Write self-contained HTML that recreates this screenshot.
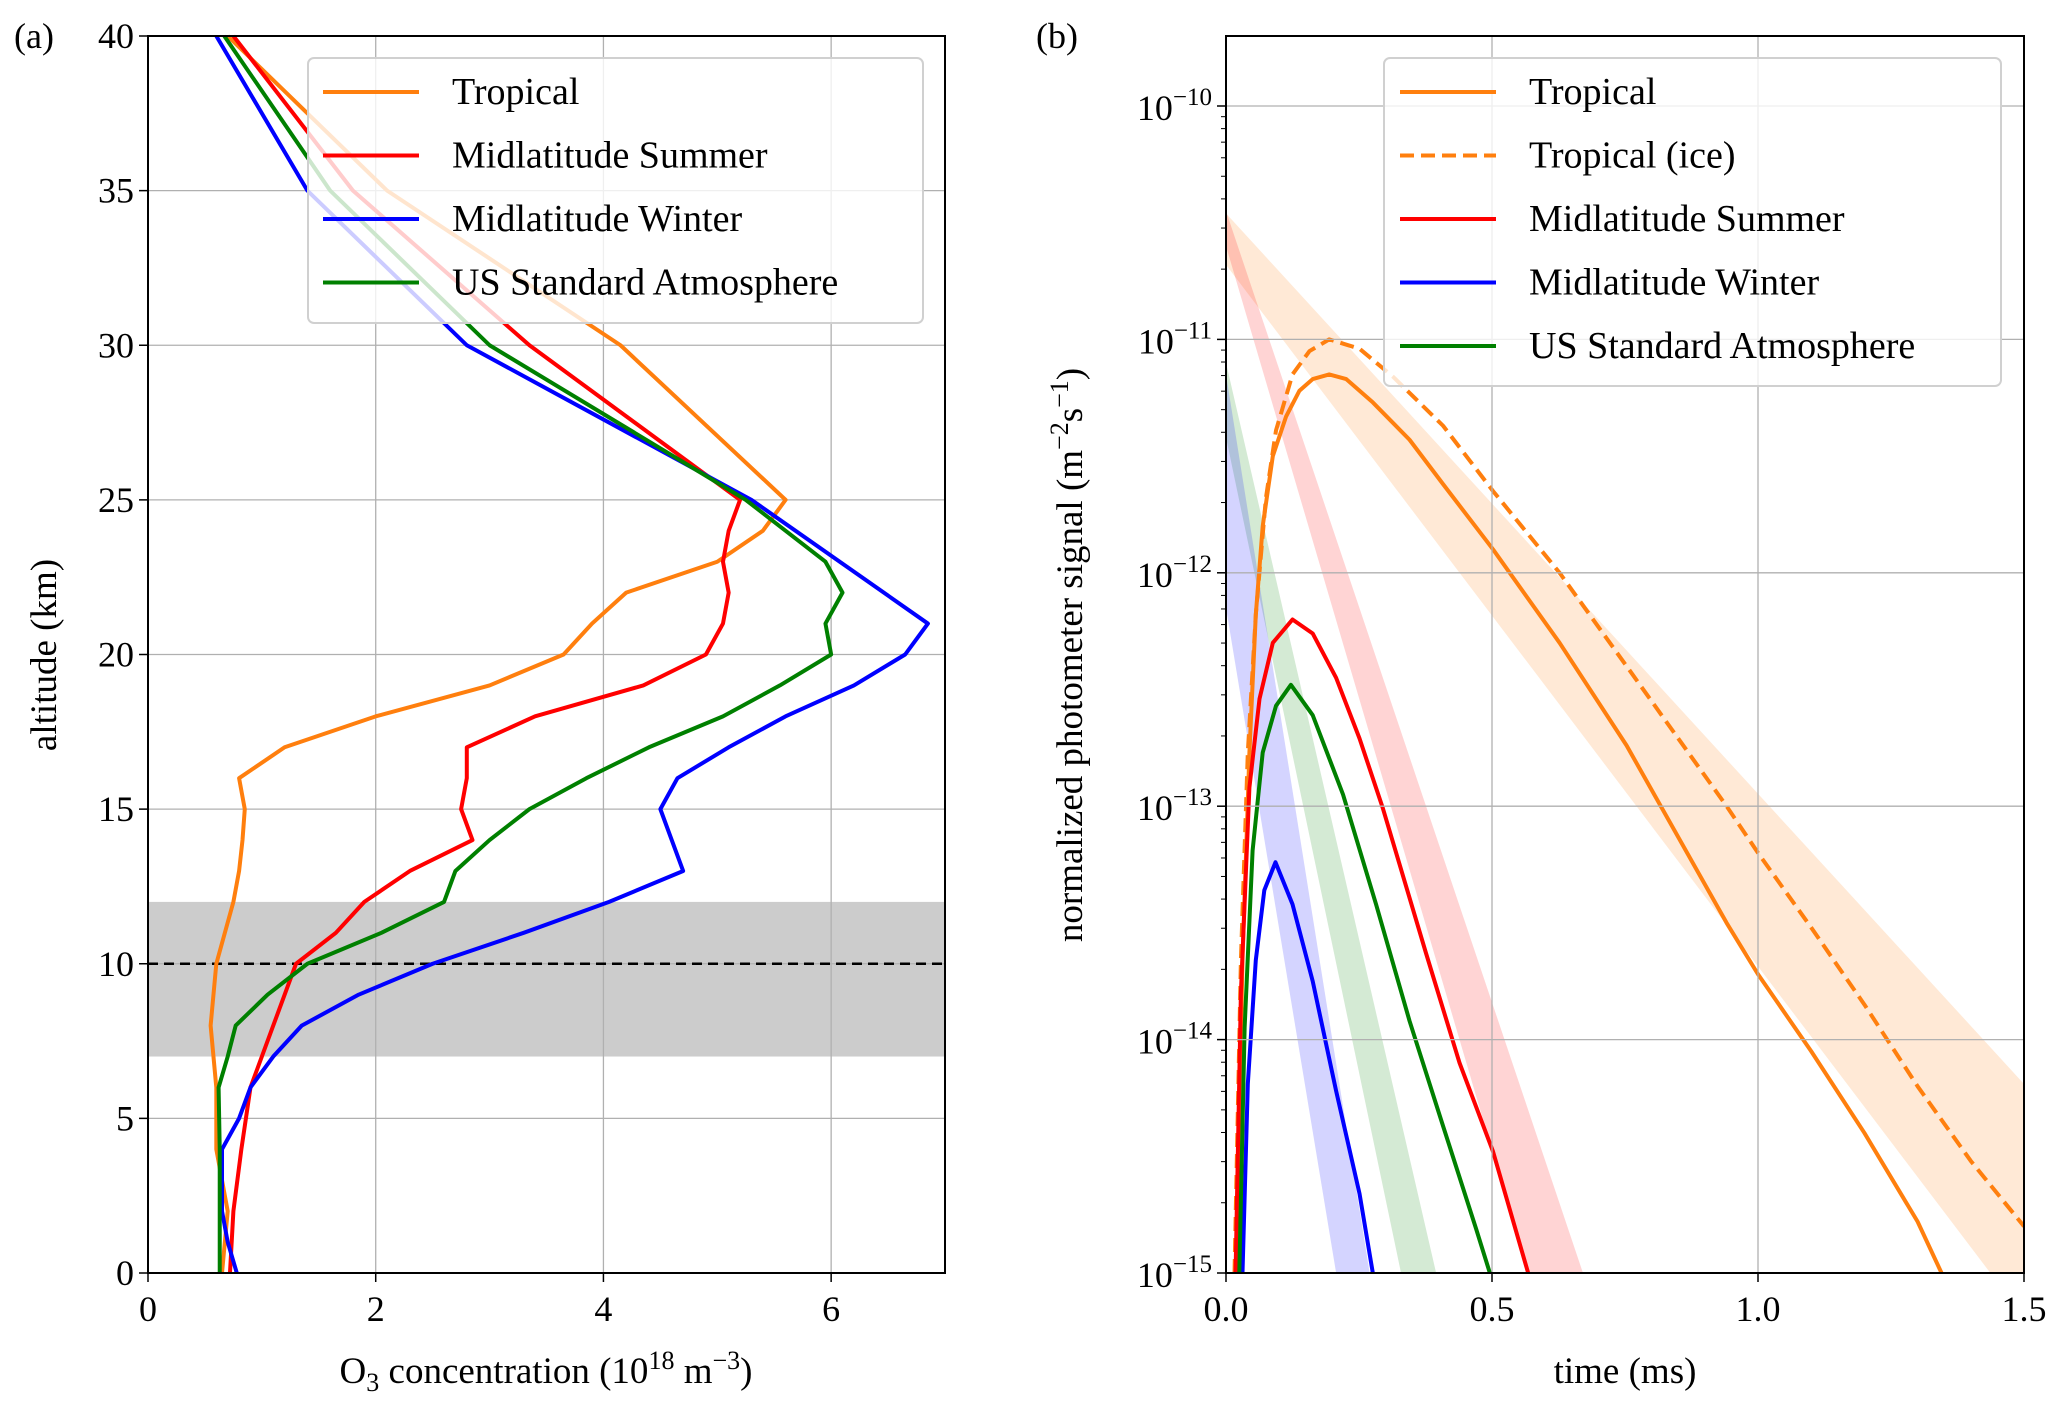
<!DOCTYPE html>
<html><head><meta charset="utf-8"><style>
body{margin:0;background:#fff}
svg{display:block;font-family:"Liberation Serif",serif}
</style></head><body>
<svg id="fig" width="2067" height="1410" viewBox="0 0 2067 1410">
<text x="14" y="48" font-size="36">(a)</text>
<text x="1036" y="48" font-size="36">(b)</text>
<g id="pa"></g>
<g id="pb"></g>
</svg>
<script>
// ---- Panel (a) data ----
const tropAlt=[0,2,4,6,8,10,12,13,14,15,16,17,18,19,20,21,22,23,24,25,30,35,40];
const tropO3=[0.65,0.7,0.6,0.6,0.55,0.6,0.75,0.8,0.83,0.85,0.8,1.2,2.0,3.0,3.65,3.9,4.2,5.0,5.4,5.6,4.15,2.1,0.7];
const msAlt=[0,2,4,6,8,9,10,11,12,13,14,15,16,17,18,19,20,21,22,23,24,25,30,35,40];
const msO3=[0.72,0.75,0.82,0.9,1.1,1.2,1.3,1.65,1.9,2.3,2.85,2.75,2.8,2.8,3.4,4.35,4.9,5.05,5.1,5.05,5.1,5.2,3.35,1.8,0.75];
const mwAlt=[0,1,2,4,5,6,7,8,9,10,11,12,13,14,15,16,17,18,19,20,21,25,30,35,40];
const mwO3=[0.78,0.7,0.65,0.65,0.8,0.9,1.1,1.35,1.85,2.5,3.3,4.05,4.7,4.6,4.5,4.65,5.1,5.6,6.2,6.65,6.85,5.3,2.8,1.4,0.6];
const usAlt=[0,2,4,6,7,8,9,10,11,12,13,14,15,16,17,18,19,20,21,22,23,25,30,35,40];
const usO3=[0.63,0.63,0.63,0.62,0.7,0.77,1.05,1.4,2.05,2.6,2.7,3.0,3.35,3.85,4.4,5.05,5.55,6.0,5.95,6.1,5.95,5.25,3.0,1.6,0.67];
const aXTicks=[0,2,4,6];
const aYTicks=[0,5,10,15,20,25,30,35,40];
// ---- Panel (b) data (log10 of signal) ----
const trT=[0.019,0.031,0.044,0.056,0.069,0.088,0.113,0.138,0.163,0.194,0.226,0.276,0.345,0.408,0.502,0.627,0.753,0.941,1.0,1.1,1.2,1.3,1.345];
const trL=[-15,-13.66,-12.77,-12.18,-11.8,-11.5,-11.33,-11.22,-11.17,-11.15,-11.17,-11.27,-11.43,-11.62,-11.9,-12.3,-12.74,-13.5,-13.72,-14.05,-14.4,-14.78,-15];
const iceT=[0.016,0.028,0.041,0.056,0.075,0.094,0.125,0.157,0.194,0.251,0.314,0.408,0.502,0.627,0.753,0.941,1.0,1.1,1.2,1.3,1.4,1.5];
const iceL=[-15,-13.66,-12.77,-12.18,-11.68,-11.39,-11.15,-11.05,-11.0,-11.04,-11.16,-11.37,-11.65,-12.0,-12.4,-13.0,-13.2,-13.52,-13.85,-14.2,-14.52,-14.8];
const msT=[0.018,0.028,0.044,0.063,0.088,0.125,0.163,0.207,0.251,0.295,0.376,0.439,0.502,0.568];
const msL=[-15,-13.8,-12.92,-12.54,-12.3,-12.2,-12.26,-12.45,-12.71,-13.01,-13.63,-14.1,-14.48,-15];
const usT=[0.025,0.035,0.05,0.069,0.094,0.122,0.163,0.22,0.282,0.345,0.408,0.47,0.496];
const usL=[-15,-13.95,-13.19,-12.77,-12.57,-12.48,-12.61,-12.95,-13.42,-13.92,-14.37,-14.81,-15];
const mwT=[0.031,0.041,0.056,0.072,0.093,0.125,0.163,0.207,0.251,0.276];
const mwL=[-15,-14.19,-13.66,-13.36,-13.24,-13.42,-13.75,-14.22,-14.66,-15];
// fit bands
const bandTrT=[0,1.5]; const bandTrUp=[-10.46,-14.19]; const bandTrLo=[-10.68,-15.19];
const bandMsT=[0,0.671,0.568]; const bandMsL=[-10.45,-15,-10.6];
const bandUsT=[0,0.395,0.329]; const bandUsL=[-11.1,-15,-11.42];
const bandMwT=[0,0.27,0.207]; const bandMwL=[-11.15,-15,-12.15];
const bXTicks=[0,0.5,1.0,1.5];
const bXLabels=["0.0","0.5","1.0","1.5"];
const bYTicks=[-15,-14,-13,-12,-11,-10];

const NS="http://www.w3.org/2000/svg";
function el(p,t,a){const e=document.createElementNS(NS,t);for(const k in a)e.setAttribute(k,a[k]);p.appendChild(e);return e;}
const C={or:"#ff7f0e",r:"#ff0000",b:"#0000ff",g:"#008000"};
const LW=4;

// ---- Panel a ----
const pa=document.getElementById('pa');
const aL=148,aR=945,aT=36,aB=1273;
const ax=v=>aL+v/7*(aR-aL), ay=v=>aB-v/40*(aB-aT);
let e=el(pa,'rect',{x:aL,y:ay(12),width:aR-aL,height:ay(7)-ay(12),fill:'#cccccc'});


aXTicks.forEach(v=>{let g=el(pa,'line',{x1:ax(v),x2:ax(v),y1:aT,y2:aB,stroke:'#b0b0b0','stroke-width':1.3});
 el(pa,'line',{x1:ax(v),x2:ax(v),y1:aB,y2:aB+9,stroke:'#000','stroke-width':1.5});
 let l=el(pa,'text',{x:ax(v),y:aB+48,'font-size':36,'text-anchor':'middle'});l.textContent=v;});
aYTicks.forEach(v=>{let g=el(pa,'line',{x1:aL,x2:aR,y1:ay(v),y2:ay(v),stroke:'#b0b0b0','stroke-width':1.3});
 el(pa,'line',{x1:aL-9,x2:aL,y1:ay(v),y2:ay(v),stroke:'#000','stroke-width':1.5});
 let l=el(pa,'text',{x:aL-14,y:ay(v)+12,'font-size':36,'text-anchor':'end'});l.textContent=v;});
e=el(pa,'line',{x1:aL,x2:aR,y1:ay(10),y2:ay(10),stroke:'#000','stroke-width':2.5,'stroke-dasharray':'10,6'});


function prof(xs,ys,c,n){let p=el(pa,'polyline',{points:xs.map((v,i)=>ax(v)+','+ay(ys[i])).join(' '),fill:'none',stroke:c,'stroke-width':LW,'stroke-linejoin':'round'});}
prof(tropO3,tropAlt,C.or,'tropical-profile');
prof(msO3,msAlt,C.r,'midlat-summer-profile');
prof(mwO3,mwAlt,C.b,'midlat-winter-profile');
prof(usO3,usAlt,C.g,'us-standard-profile');
e=el(pa,'rect',{x:aL,y:aT,width:aR-aL,height:aB-aT,fill:'none',stroke:'#000','stroke-width':2});


const lga=el(pa,'g',{});


el(lga,'rect',{x:308,y:58,width:615,height:265,rx:6,fill:'rgba(255,255,255,0.8)',stroke:'#d0d0d0','stroke-width':2});
[["Tropical",C.or],["Midlatitude Summer",C.r],["Midlatitude Winter",C.b],["US Standard Atmosphere",C.g]].forEach((d,i)=>{const y=92+i*63.5;
 let g=el(lga,'g',{});
 el(g,'line',{x1:323,x2:419,y1:y,y2:y,stroke:d[1],'stroke-width':LW});
 let t=el(g,'text',{x:452,y:y+12,'font-size':38});t.textContent=d[0];});
e=el(pa,'text',{x:546,y:1383,'font-size':37,'text-anchor':'middle'});
e.innerHTML='O<tspan font-size="26" dy="8">3</tspan><tspan dy="-8"> concentration (10</tspan><tspan font-size="26" dy="-14">18</tspan><tspan dy="14"> m</tspan><tspan font-size="26" dy="-14">−3</tspan><tspan dy="14">)</tspan>';


e=el(pa,'text',{x:0,y:0,'font-size':37,'text-anchor':'middle',transform:'translate(56,655) rotate(-90)'});
e.textContent='altitude (km)';



// ---- Panel b ----
const pb=document.getElementById('pb');
const bL=1226,bR=2024,bT=36,bB=1273;
const dec=233.4;
const bx=v=>bL+v/1.5*(bR-bL), by=v=>bB-(v+15)*dec;
const cl=el(pb,'clipPath',{id:'cb'});el(cl,'rect',{x:bL,y:bT,width:bR-bL,height:bB-bT});
const gb=el(pb,'g',{'clip-path':'url(#cb)'});
bXTicks.forEach(v=>{let g=el(pb,'line',{x1:bx(v),x2:bx(v),y1:bT,y2:bB,stroke:'#b0b0b0','stroke-width':1.3});});
bYTicks.forEach(v=>{let g=el(pb,'line',{x1:bL,x2:bR,y1:by(v),y2:by(v),stroke:'#b0b0b0','stroke-width':1.3});});
function poly(pts,c,n){let p=el(gb,'polygon',{points:pts.map(q=>bx(q[0])+','+by(q[1])).join(' '),fill:c,'fill-opacity':0.17});}
poly([[bandTrT[0],bandTrUp[0]],[bandTrT[1],bandTrUp[1]],[bandTrT[1],bandTrLo[1]],[bandTrT[0],bandTrLo[0]]],C.or,'tropical-fit-band');
poly([[0,bandMsL[0]],[bandMsT[1],bandMsL[1]],[bandMsT[2],bandMsL[1]],[0,bandMsL[2]]],C.r,'midlat-summer-fit-band');
poly([[0,bandUsL[0]],[bandUsT[1],bandUsL[1]],[bandUsT[2],bandUsL[1]],[0,bandUsL[2]]],C.g,'us-standard-fit-band');
poly([[0,bandMwL[0]],[bandMwT[1],bandMwL[1]],[bandMwT[2],bandMwL[1]],[0,bandMwL[2]]],C.b,'midlat-winter-fit-band');
function sig(ts,ls,c,n,dash){let a={points:ts.map((v,i)=>bx(v)+','+by(ls[i])).join(' '),fill:'none',stroke:c,'stroke-width':LW,'stroke-linejoin':'round'};if(dash)a['stroke-dasharray']='14,7';let p=el(gb,'polyline',a);}
sig(iceT,iceL,C.or,'tropical-ice-signal',true);
sig(trT,trL,C.or,'tropical-signal');
sig(msT,msL,C.r,'midlat-summer-signal');
sig(mwT,mwL,C.b,'midlat-winter-signal');
sig(usT,usL,C.g,'us-standard-signal');
bXTicks.forEach((v,i)=>{el(pb,'line',{x1:bx(v),x2:bx(v),y1:bB,y2:bB+9,stroke:'#000','stroke-width':1.5});
 let l=el(pb,'text',{x:bx(v),y:bB+48,'font-size':36,'text-anchor':'middle'});l.textContent=bXLabels[i];});
for(let d=-15;d<-9;d++){for(let m=2;m<10;m++){const y=by(d+Math.log10(m));if(y<bT)continue;el(pb,'line',{x1:bL-5,x2:bL,y1:y,y2:y,stroke:'#000','stroke-width':1});}}
bYTicks.forEach(v=>{el(pb,'line',{x1:bL-9,x2:bL,y1:by(v),y2:by(v),stroke:'#000','stroke-width':1.5});
 let l=el(pb,'text',{x:bL-14,y:by(v)+14,'font-size':36,'text-anchor':'end'});l.innerHTML='10<tspan font-size="25" dy="-15">−'+(-v)+'</tspan>';});
e=el(pb,'rect',{x:bL,y:bT,width:bR-bL,height:bB-bT,fill:'none',stroke:'#000','stroke-width':2});


const lgb=el(pb,'g',{});


el(lgb,'rect',{x:1384,y:58,width:617,height:328,rx:6,fill:'rgba(255,255,255,0.8)',stroke:'#d0d0d0','stroke-width':2});
[["Tropical",C.or,0],["Tropical (ice)",C.or,1],["Midlatitude Summer",C.r,0],["Midlatitude Winter",C.b,0],["US Standard Atmosphere",C.g,0]].forEach((d,i)=>{const y=92+i*63.5;
 let g=el(lgb,'g',{});
 const a={x1:1400,x2:1496,y1:y,y2:y,stroke:d[1],'stroke-width':LW};if(d[2])a['stroke-dasharray']='14,7';el(g,'line',a);
 let t=el(g,'text',{x:1529,y:y+12,'font-size':38});t.textContent=d[0];});
e=el(pb,'text',{x:1625,y:1383,'font-size':37,'text-anchor':'middle'});
e.textContent='time (ms)';


e=el(pb,'text',{x:0,y:0,'font-size':37,'text-anchor':'middle',transform:'translate(1082,655) rotate(-90)'});
e.innerHTML='normalized photometer signal (m<tspan font-size="26" dy="-14">−2</tspan><tspan dy="14">s</tspan><tspan font-size="26" dy="-14">−1</tspan><tspan dy="14">)</tspan>';


</script>
</body></html>
